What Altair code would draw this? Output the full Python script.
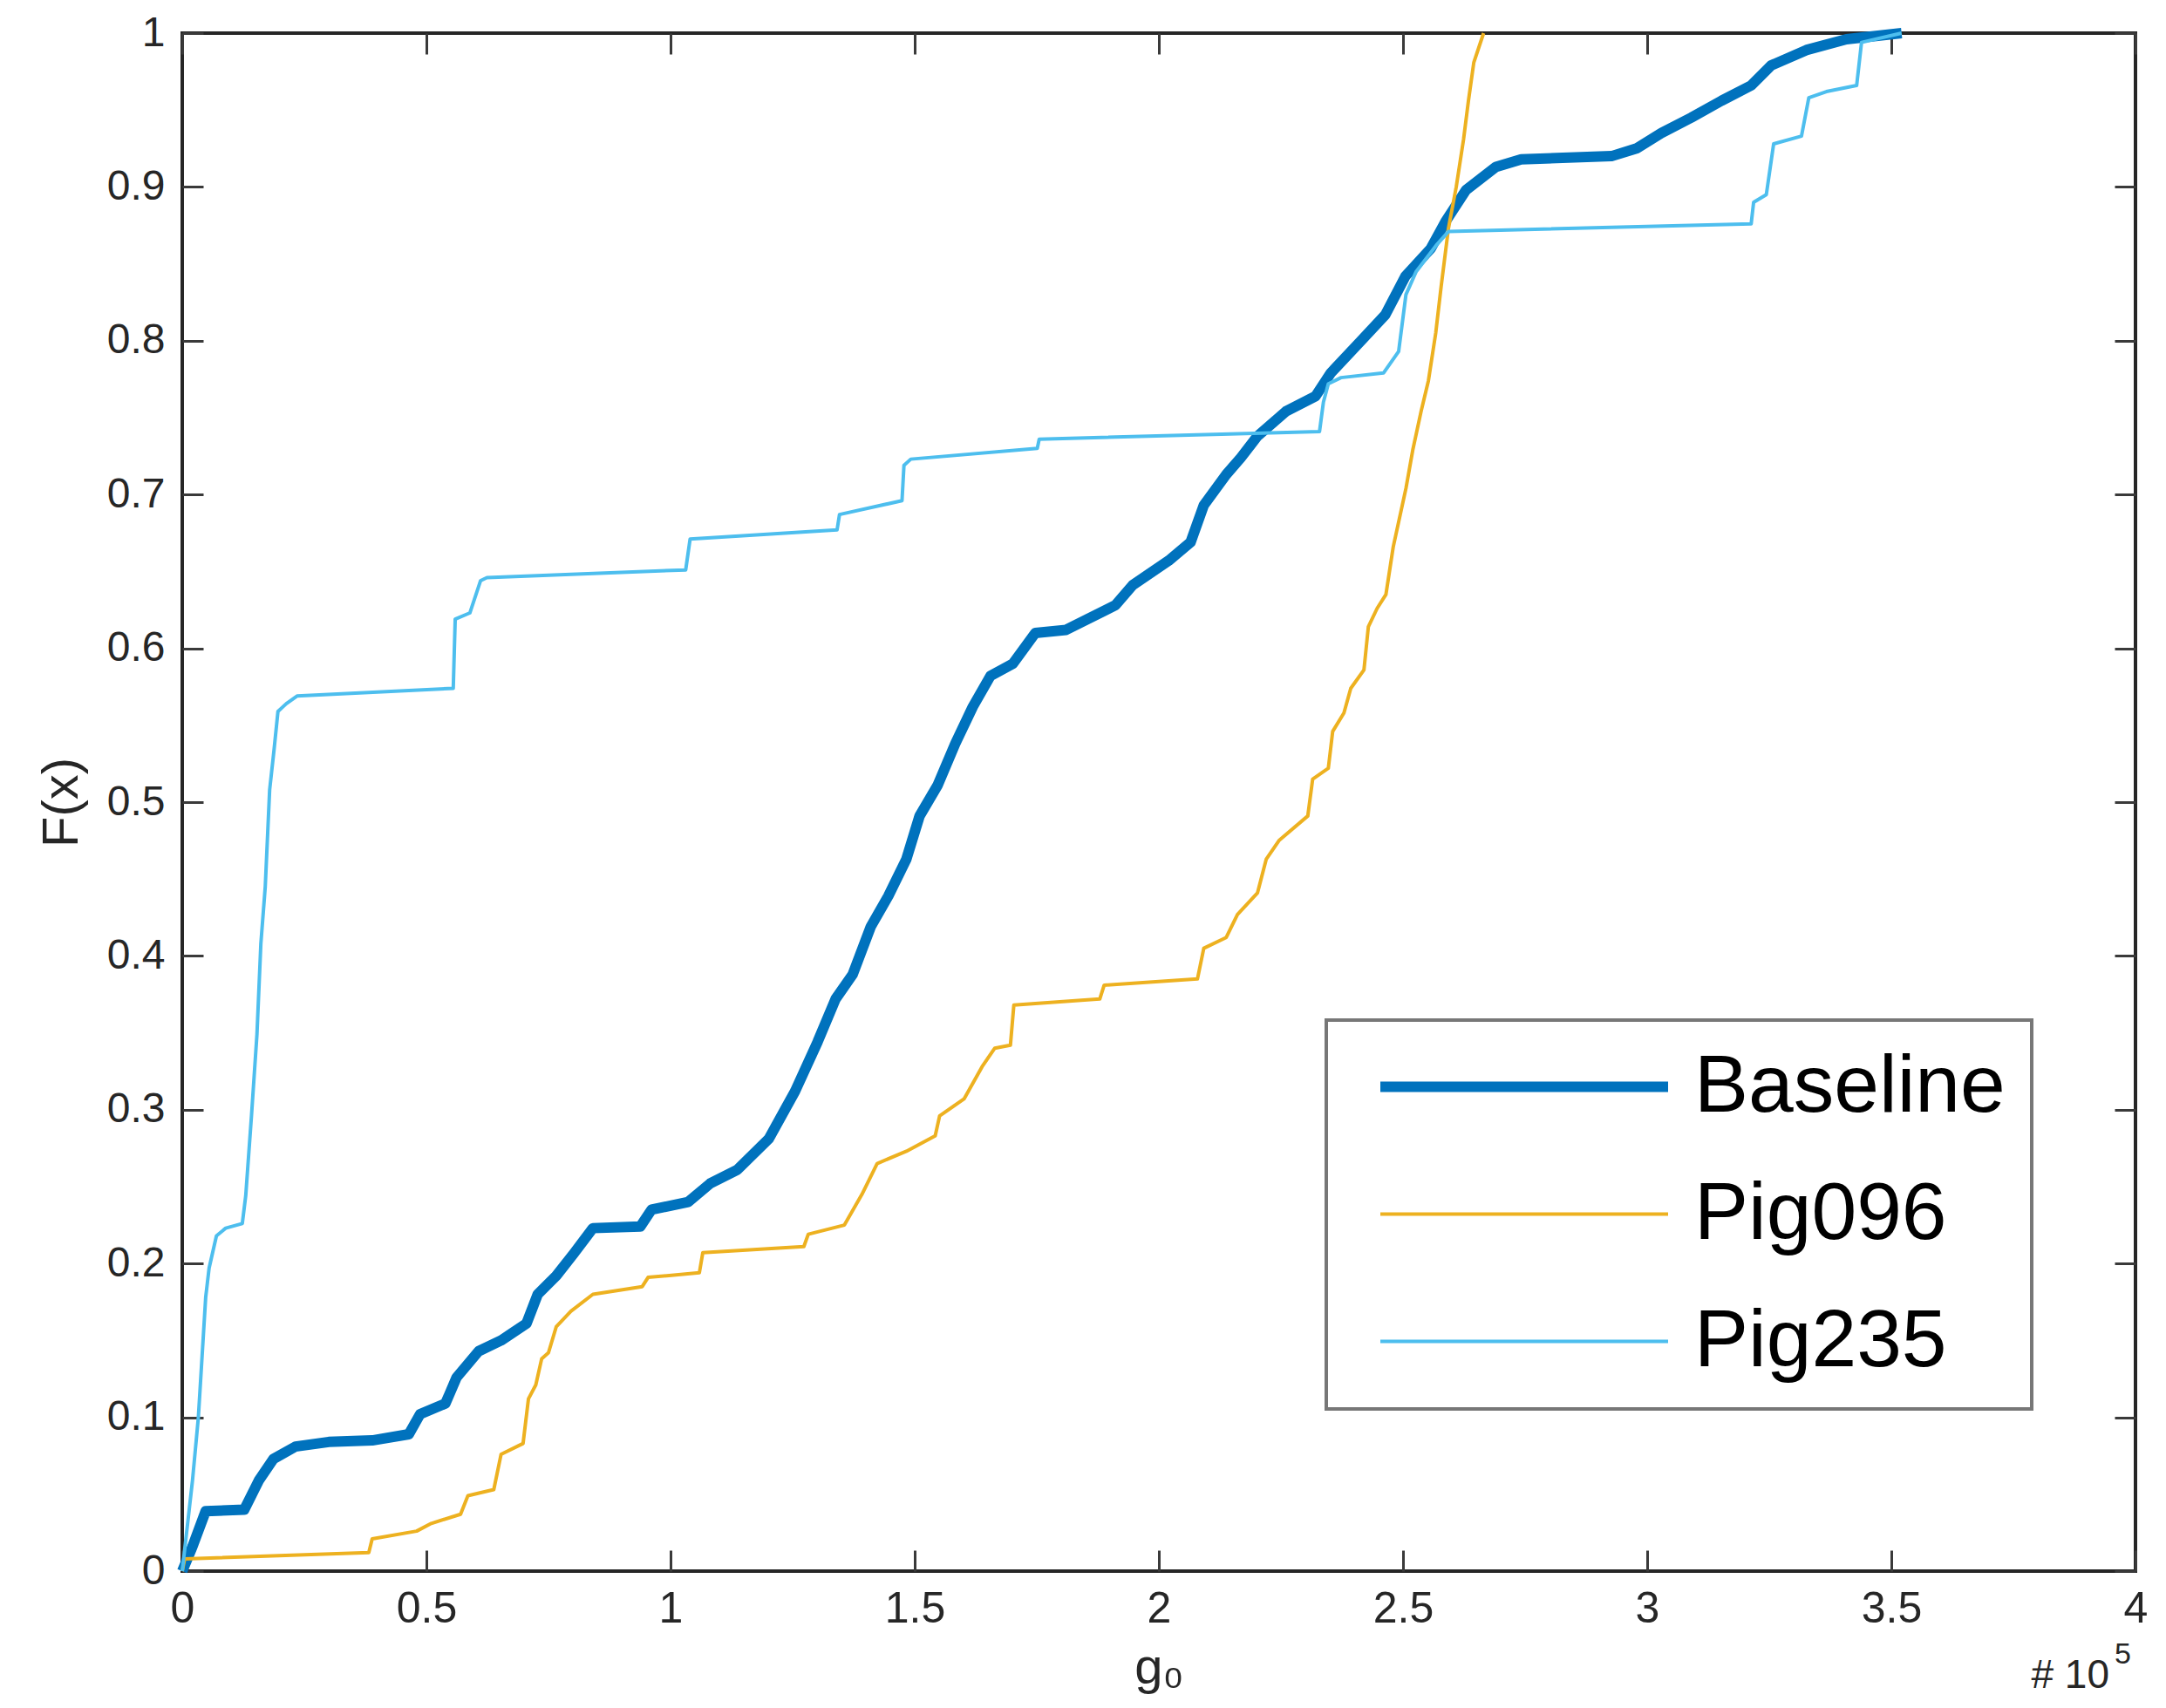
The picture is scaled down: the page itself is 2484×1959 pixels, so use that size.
import altair as alt
import pandas as pd

# ---------------- data (x in units of 1e5) ----------------
series_names = ["Baseline", "Pig096", "Pig235"]
series_colors = ["#0072BD", "#EDB120", "#4DBEEE"]
series_widths = [12, 4, 4]

baseline_x = [0, 0.021, 0.048, 0.127, 0.157, 0.187, 0.232, 0.30, 0.389, 0.464, 0.487, 0.539,
              0.562, 0.607, 0.653, 0.705, 0.728, 0.766, 0.803, 0.841, 0.938, 0.961, 1.036,
              1.081, 1.137, 1.201, 1.255, 1.301, 1.338, 1.373, 1.410, 1.446, 1.483, 1.510,
              1.547, 1.583, 1.619, 1.655, 1.701, 1.747, 1.810, 1.911, 1.946, 2.02, 2.065,
              2.092, 2.138, 2.168, 2.202, 2.26, 2.321, 2.352, 2.414, 2.464, 2.505, 2.557,
              2.588, 2.629, 2.69, 2.742, 2.927, 2.978, 3.029, 3.09, 3.152, 3.213, 3.254,
              3.326, 3.408, 3.521]
baseline_y = [0, 0.016, 0.039, 0.040, 0.059, 0.073, 0.081, 0.084, 0.085, 0.089, 0.102, 0.109,
              0.126, 0.143, 0.150, 0.161, 0.180, 0.192, 0.207, 0.223, 0.224, 0.235, 0.240,
              0.252, 0.261, 0.281, 0.312, 0.344, 0.372, 0.388, 0.419, 0.439, 0.463, 0.491,
              0.511, 0.538, 0.562, 0.582, 0.590, 0.610, 0.612, 0.628, 0.641, 0.657, 0.669,
              0.693, 0.713, 0.724, 0.738, 0.754, 0.764, 0.779, 0.800, 0.817, 0.842, 0.860,
              0.878, 0.898, 0.913, 0.918, 0.920, 0.925, 0.935, 0.945, 0.956, 0.966, 0.979,
              0.989, 0.996, 1.0]

pig096_x = [0, 0.005, 0.382, 0.389, 0.48, 0.51, 0.570, 0.585, 0.638, 0.653, 0.698, 0.709,
            0.724, 0.736, 0.750, 0.766, 0.796, 0.841, 0.942, 0.954, 1.059, 1.066, 1.273,
            1.282, 1.356, 1.392, 1.423, 1.483, 1.542, 1.551, 1.601, 1.638, 1.664, 1.696,
            1.703, 1.879, 1.888, 2.079, 2.092, 2.138, 2.161, 2.202, 2.22, 2.246, 2.305,
            2.315, 2.347, 2.356, 2.379, 2.393, 2.42, 2.429, 2.447, 2.465, 2.48, 2.506,
            2.52, 2.537, 2.552, 2.567, 2.578, 2.593, 2.609, 2.624, 2.634, 2.645, 2.665]
pig096_y = [0, 0.008, 0.012, 0.021, 0.026, 0.031, 0.037, 0.049, 0.053, 0.076, 0.083, 0.112,
            0.121, 0.138, 0.142, 0.159, 0.169, 0.180, 0.185, 0.191, 0.194, 0.207, 0.211,
            0.219, 0.225, 0.245, 0.265, 0.273, 0.283, 0.296, 0.307, 0.328, 0.340, 0.342,
            0.368, 0.372, 0.381, 0.385, 0.405, 0.412, 0.427, 0.441, 0.463, 0.475, 0.491,
            0.515, 0.522, 0.546, 0.558, 0.574, 0.586, 0.614, 0.626, 0.635, 0.666, 0.704,
            0.729, 0.754, 0.774, 0.805, 0.835, 0.873, 0.900, 0.931, 0.956, 0.981, 1.0]

pig235_x = [0, 0.021, 0.033, 0.048, 0.055, 0.070, 0.089, 0.123, 0.130, 0.142, 0.153, 0.161,
            0.17, 0.179, 0.188, 0.196, 0.213, 0.235, 0.555, 0.559, 0.589, 0.611, 0.624,
            1.031, 1.04, 1.341, 1.346, 1.474, 1.478, 1.492, 1.751, 1.755, 2.329, 2.337,
            2.347, 2.373, 2.46, 2.491, 2.506, 2.527, 2.568, 2.593, 3.213, 3.218, 3.244,
            3.259, 3.316, 3.331, 3.367, 3.429, 3.439, 3.521]
pig235_y = [0, 0.059, 0.10, 0.178, 0.197, 0.218, 0.223, 0.226, 0.244, 0.297, 0.349, 0.408,
            0.445, 0.508, 0.534, 0.559, 0.564, 0.569, 0.574, 0.619, 0.623, 0.644, 0.646,
            0.651, 0.671, 0.677, 0.687, 0.696, 0.719, 0.723, 0.730, 0.736, 0.741, 0.760,
            0.772, 0.776, 0.779, 0.793, 0.830, 0.845, 0.862, 0.871, 0.876, 0.890, 0.895,
            0.928, 0.933, 0.958, 0.962, 0.966, 0.994, 1.0]

x_ticks = [0, 0.5, 1, 1.5, 2, 2.5, 3, 3.5, 4]
y_ticks = [0, 0.1, 0.2, 0.3, 0.4, 0.5, 0.6, 0.7, 0.8, 0.9, 1]
x_title = "g\u2080"
y_title = "F(x)"
exp_base_text = "# 10"
exp_power_text = "5"

rows = []
for name, xs_, ys_ in zip(series_names, [baseline_x, pig096_x, pig235_x],
                          [baseline_y, pig096_y, pig235_y]):
    for i, (xv, yv) in enumerate(zip(xs_, ys_)):
        rows.append({"series": name, "g0": xv, "F": yv, "order": i})
df = pd.DataFrame(rows)

# ---------------- layout ----------------
TOP = 30
W, H = 2240, 1764
TICK = 24
AX = "#262626"
NARROW = "Liberation Sans Narrow, Liberation Sans, Arial, sans-serif"
SANS = "Liberation Sans, Arial, sans-serif"

xscale = alt.Scale(domain=[0, 4], nice=False, zero=False)
yscale = alt.Scale(domain=[0, 1], nice=False, zero=False)

legend = alt.Legend(
    title=None, orient="none", legendX=1521 - 209, legendY=1170 - (TOP + 8),
    direction="vertical", symbolType="stroke", symbolSize=330 ** 2,
    clipHeight=93, rowPadding=52, labelFontSize=93, labelFont=SANS,
    labelColor="black", labelOffset=24, padding=30, symbolOffset=26,
    strokeColor="#777777", fillColor="white", labelLimit=0,
)

main = alt.Chart(df).mark_line(strokeJoin="round").encode(
    x=alt.X("g0:Q", scale=xscale, axis=alt.Axis(
        orient="bottom", values=x_ticks, format="~g", ticks=False, tickSize=0,
        domain=False, grid=False, labelFontSize=50, labelFont=NARROW,
        labelColor=AX, labelPadding=18, labelFlush=False, labelOverlap=False,
        title=x_title, titleFont=SANS, titleFontSize=58, titleFontWeight="normal",
        titleColor=AX, titleBaseline="alphabetic", titleY=128)),
    y=alt.Y("F:Q", scale=yscale, axis=alt.Axis(
        orient="left", values=y_ticks, format="~g", ticks=False, tickSize=0,
        domain=False, grid=False, labelFontSize=48, labelFont=NARROW,
        labelColor=AX, labelPadding=20, labelFlush=False, labelOverlap=False,
        title=y_title, titleFont=NARROW, titleFontSize=58, titleFontWeight="normal",
        titleColor=AX, titlePadding=22)),
    color=alt.Color("series:N", scale=alt.Scale(domain=series_names, range=series_colors),
                    legend=legend),
    strokeWidth=alt.StrokeWidth("series:N",
                                scale=alt.Scale(type="ordinal", domain=series_names,
                                                range=series_widths),
                                legend=legend),
    order="order:Q",
)

tick_kw = dict(labels=False, domain=False, grid=False, ticks=True, tickSize=TICK,
               tickWidth=3, tickColor="#3a3a3a", title=None, offset=-TICK)

ticks_bl = alt.Chart(df).mark_line(opacity=0).encode(
    x=alt.X("g0:Q", scale=xscale, axis=alt.Axis(orient="bottom", values=x_ticks, **tick_kw)),
    y=alt.Y("F:Q", scale=yscale, axis=alt.Axis(orient="left", values=y_ticks, **tick_kw)),
    detail="series:N",
)
ticks_tr = alt.Chart(df).mark_line(opacity=0).encode(
    x=alt.X("g0:Q", scale=xscale, axis=alt.Axis(orient="top", values=x_ticks, **tick_kw)),
    y=alt.Y("F:Q", scale=yscale, axis=alt.Axis(orient="right", values=y_ticks, **tick_kw)),
    detail="series:N",
)

ann = pd.DataFrame({"base": [exp_base_text], "power": [exp_power_text]})
exp_base = alt.Chart(ann).mark_text(
    align="right", baseline="alphabetic", font=NARROW, fontSize=46, color=AX
).encode(x=alt.value(2210), y=alt.value(H + 134), text="base:N")
exp_pow = alt.Chart(ann).mark_text(
    align="left", baseline="alphabetic", font=NARROW, fontSize=34, color=AX
).encode(x=alt.value(2216), y=alt.value(H + 106), text="power:N")

chart = alt.layer(main, ticks_bl, ticks_tr, exp_base, exp_pow).resolve_axis(
    x="independent", y="independent"
).properties(
    width=W, height=H,
    padding={"left": 201, "top": TOP, "right": 20, "bottom": 147},
    autosize=alt.AutoSizeParams(type="none"),
).configure(background="white").configure_view(
    stroke=AX, strokeWidth=4
).configure_legend(strokeWidth=4)

chart.save("out.html", embed_options={"renderer": "svg", "actions": False})
